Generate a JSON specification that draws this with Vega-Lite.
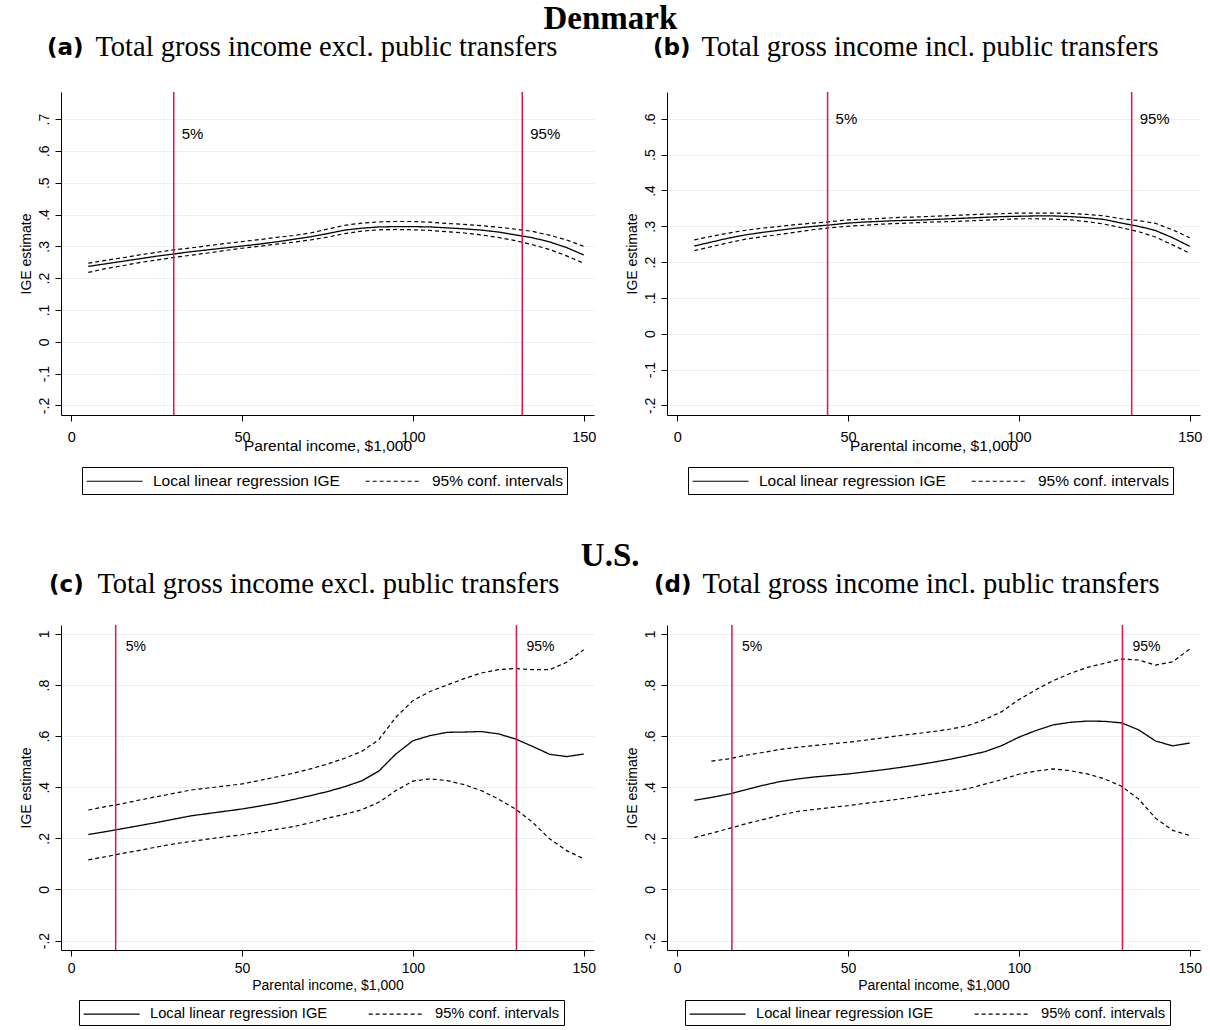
{
  "$schema": "https://vega.github.io/schema/vega-lite/v6.json",
  "background": "white",
  "padding": {"left": 18, "top": 2, "right": 5, "bottom": 0},
  "config": {
    "view": {"stroke": null},
    "axis": {"labelFont": "Liberation Sans", "titleFont": "Liberation Sans", "labelFontSize": 14, "titleFontSize": 14, "titleFontWeight": "normal", "labelColor": "black", "titleColor": "black", "domainColor": "black", "tickColor": "black", "tickSize": 6, "labelOverlap": false},
    "axisY": {"grid": true, "gridColor": "#e9eff2", "labelAngle": -90, "labelPadding": 4, "titlePadding": 4, "tickCount": 12},
    "axisX": {"grid": false, "labelPadding": 4},
    "legend": {"orient": "none", "direction": "horizontal", "title": null, "symbolType": "M -1 0 H 5", "symbolSize": 348, "symbolStrokeWidth": 1.2, "symbolStrokeColor": "black", "symbolFillColor": "transparent", "labelFont": "Liberation Sans", "labelColor": "black", "labelOffset": 47, "padding": 4, "strokeColor": "black", "fillColor": "white", "cornerRadius": 0, "labelLimit": 300},
    "title": {"color": "black"}
  },
  "datasets": {
    "curves": [
      {"p":"a","income":5,"est":0.237,"lo":0.218,"hi":0.247},
      {"p":"a","income":10,"est":0.245,"lo":0.230,"hi":0.256},
      {"p":"a","income":15,"est":0.253,"lo":0.239,"hi":0.264},
      {"p":"a","income":20,"est":0.261,"lo":0.249,"hi":0.273},
      {"p":"a","income":25,"est":0.269,"lo":0.257,"hi":0.281},
      {"p":"a","income":30,"est":0.276,"lo":0.265,"hi":0.289},
      {"p":"a","income":35,"est":0.283,"lo":0.272,"hi":0.295},
      {"p":"a","income":40,"est":0.289,"lo":0.279,"hi":0.302},
      {"p":"a","income":45,"est":0.295,"lo":0.287,"hi":0.309},
      {"p":"a","income":50,"est":0.301,"lo":0.294,"hi":0.315},
      {"p":"a","income":55,"est":0.307,"lo":0.300,"hi":0.321},
      {"p":"a","income":60,"est":0.314,"lo":0.307,"hi":0.328},
      {"p":"a","income":65,"est":0.322,"lo":0.313,"hi":0.334},
      {"p":"a","income":70,"est":0.330,"lo":0.320,"hi":0.342},
      {"p":"a","income":75,"est":0.340,"lo":0.329,"hi":0.354},
      {"p":"a","income":80,"est":0.351,"lo":0.340,"hi":0.366},
      {"p":"a","income":85,"est":0.357,"lo":0.348,"hi":0.373},
      {"p":"a","income":90,"est":0.361,"lo":0.352,"hi":0.377},
      {"p":"a","income":95,"est":0.362,"lo":0.353,"hi":0.378},
      {"p":"a","income":100,"est":0.362,"lo":0.352,"hi":0.378},
      {"p":"a","income":105,"est":0.361,"lo":0.350,"hi":0.376},
      {"p":"a","income":110,"est":0.358,"lo":0.346,"hi":0.372},
      {"p":"a","income":115,"est":0.355,"lo":0.342,"hi":0.369},
      {"p":"a","income":120,"est":0.351,"lo":0.336,"hi":0.365},
      {"p":"a","income":125,"est":0.345,"lo":0.328,"hi":0.360},
      {"p":"a","income":130,"est":0.336,"lo":0.318,"hi":0.354},
      {"p":"a","income":135,"est":0.327,"lo":0.305,"hi":0.347},
      {"p":"a","income":140,"est":0.314,"lo":0.290,"hi":0.335},
      {"p":"a","income":145,"est":0.296,"lo":0.270,"hi":0.320},
      {"p":"a","income":150,"est":0.273,"lo":0.247,"hi":0.300},
      {"p":"b","income":5,"est":0.245,"lo":0.232,"hi":0.262},
      {"p":"b","income":10,"est":0.256,"lo":0.243,"hi":0.272},
      {"p":"b","income":15,"est":0.267,"lo":0.254,"hi":0.281},
      {"p":"b","income":20,"est":0.276,"lo":0.264,"hi":0.289},
      {"p":"b","income":25,"est":0.283,"lo":0.271,"hi":0.295},
      {"p":"b","income":30,"est":0.289,"lo":0.277,"hi":0.300},
      {"p":"b","income":35,"est":0.295,"lo":0.284,"hi":0.305},
      {"p":"b","income":40,"est":0.300,"lo":0.291,"hi":0.309},
      {"p":"b","income":45,"est":0.304,"lo":0.296,"hi":0.313},
      {"p":"b","income":50,"est":0.309,"lo":0.300,"hi":0.318},
      {"p":"b","income":55,"est":0.312,"lo":0.303,"hi":0.320},
      {"p":"b","income":60,"est":0.314,"lo":0.306,"hi":0.322},
      {"p":"b","income":65,"est":0.316,"lo":0.308,"hi":0.325},
      {"p":"b","income":70,"est":0.317,"lo":0.310,"hi":0.326},
      {"p":"b","income":75,"est":0.319,"lo":0.312,"hi":0.328},
      {"p":"b","income":80,"est":0.321,"lo":0.313,"hi":0.330},
      {"p":"b","income":85,"est":0.323,"lo":0.315,"hi":0.332},
      {"p":"b","income":90,"est":0.325,"lo":0.317,"hi":0.334},
      {"p":"b","income":95,"est":0.327,"lo":0.319,"hi":0.335},
      {"p":"b","income":100,"est":0.328,"lo":0.321,"hi":0.337},
      {"p":"b","income":105,"est":0.329,"lo":0.321,"hi":0.337},
      {"p":"b","income":110,"est":0.329,"lo":0.320,"hi":0.337},
      {"p":"b","income":115,"est":0.327,"lo":0.318,"hi":0.336},
      {"p":"b","income":120,"est":0.324,"lo":0.313,"hi":0.333},
      {"p":"b","income":125,"est":0.319,"lo":0.306,"hi":0.329},
      {"p":"b","income":130,"est":0.309,"lo":0.296,"hi":0.321},
      {"p":"b","income":135,"est":0.300,"lo":0.285,"hi":0.316},
      {"p":"b","income":140,"est":0.288,"lo":0.270,"hi":0.308},
      {"p":"b","income":145,"est":0.268,"lo":0.248,"hi":0.290},
      {"p":"b","income":150,"est":0.244,"lo":0.225,"hi":0.268},
      {"p":"c","income":5,"est":0.215,"lo":0.116,"hi":0.311},
      {"p":"c","income":10,"est":0.226,"lo":0.128,"hi":0.324},
      {"p":"c","income":15,"est":0.238,"lo":0.141,"hi":0.336},
      {"p":"c","income":20,"est":0.250,"lo":0.153,"hi":0.350},
      {"p":"c","income":25,"est":0.262,"lo":0.166,"hi":0.363},
      {"p":"c","income":30,"est":0.275,"lo":0.178,"hi":0.376},
      {"p":"c","income":35,"est":0.288,"lo":0.188,"hi":0.389},
      {"p":"c","income":40,"est":0.297,"lo":0.197,"hi":0.397},
      {"p":"c","income":45,"est":0.306,"lo":0.206,"hi":0.405},
      {"p":"c","income":50,"est":0.315,"lo":0.214,"hi":0.413},
      {"p":"c","income":55,"est":0.326,"lo":0.224,"hi":0.426},
      {"p":"c","income":60,"est":0.338,"lo":0.235,"hi":0.440},
      {"p":"c","income":65,"est":0.352,"lo":0.246,"hi":0.455},
      {"p":"c","income":70,"est":0.367,"lo":0.261,"hi":0.472},
      {"p":"c","income":75,"est":0.383,"lo":0.279,"hi":0.491},
      {"p":"c","income":80,"est":0.402,"lo":0.294,"hi":0.513},
      {"p":"c","income":85,"est":0.425,"lo":0.312,"hi":0.540},
      {"p":"c","income":90,"est":0.463,"lo":0.341,"hi":0.586},
      {"p":"c","income":95,"est":0.530,"lo":0.387,"hi":0.674},
      {"p":"c","income":100,"est":0.582,"lo":0.424,"hi":0.739},
      {"p":"c","income":105,"est":0.602,"lo":0.433,"hi":0.775},
      {"p":"c","income":110,"est":0.615,"lo":0.426,"hi":0.800},
      {"p":"c","income":115,"est":0.616,"lo":0.410,"hi":0.825},
      {"p":"c","income":120,"est":0.618,"lo":0.387,"hi":0.847},
      {"p":"c","income":125,"est":0.609,"lo":0.354,"hi":0.860},
      {"p":"c","income":130,"est":0.589,"lo":0.315,"hi":0.865},
      {"p":"c","income":135,"est":0.560,"lo":0.263,"hi":0.860},
      {"p":"c","income":140,"est":0.529,"lo":0.198,"hi":0.860},
      {"p":"c","income":145,"est":0.520,"lo":0.152,"hi":0.889},
      {"p":"c","income":150,"est":0.530,"lo":0.120,"hi":0.938},
      {"p":"d","income":5,"est":0.349,"lo":0.203,"hi":null},
      {"p":"d","income":10,"est":0.360,"lo":0.220,"hi":0.502},
      {"p":"d","income":15,"est":0.373,"lo":0.238,"hi":0.511},
      {"p":"d","income":20,"est":0.390,"lo":0.257,"hi":0.525},
      {"p":"d","income":25,"est":0.407,"lo":0.273,"hi":0.536},
      {"p":"d","income":30,"est":0.422,"lo":0.290,"hi":0.548},
      {"p":"d","income":35,"est":0.432,"lo":0.305,"hi":0.556},
      {"p":"d","income":40,"est":0.440,"lo":0.313,"hi":0.563},
      {"p":"d","income":45,"est":0.446,"lo":0.321,"hi":0.570},
      {"p":"d","income":50,"est":0.452,"lo":0.328,"hi":0.576},
      {"p":"d","income":55,"est":0.460,"lo":0.337,"hi":0.584},
      {"p":"d","income":60,"est":0.468,"lo":0.345,"hi":0.593},
      {"p":"d","income":65,"est":0.477,"lo":0.354,"hi":0.602},
      {"p":"d","income":70,"est":0.487,"lo":0.364,"hi":0.610},
      {"p":"d","income":75,"est":0.498,"lo":0.374,"hi":0.618},
      {"p":"d","income":80,"est":0.510,"lo":0.384,"hi":0.628},
      {"p":"d","income":85,"est":0.524,"lo":0.394,"hi":0.641},
      {"p":"d","income":90,"est":0.539,"lo":0.412,"hi":0.665},
      {"p":"d","income":95,"est":0.563,"lo":0.430,"hi":0.696},
      {"p":"d","income":100,"est":0.596,"lo":0.451,"hi":0.743},
      {"p":"d","income":105,"est":0.622,"lo":0.463,"hi":0.782},
      {"p":"d","income":110,"est":0.644,"lo":0.472,"hi":0.817},
      {"p":"d","income":115,"est":0.654,"lo":0.465,"hi":0.845},
      {"p":"d","income":120,"est":0.659,"lo":0.452,"hi":0.869},
      {"p":"d","income":125,"est":0.658,"lo":0.433,"hi":0.885},
      {"p":"d","income":130,"est":0.652,"lo":0.404,"hi":0.902},
      {"p":"d","income":135,"est":0.625,"lo":0.354,"hi":0.898},
      {"p":"d","income":140,"est":0.581,"lo":0.279,"hi":0.878},
      {"p":"d","income":145,"est":0.562,"lo":0.231,"hi":0.891},
      {"p":"d","income":150,"est":0.573,"lo":0.211,"hi":0.941}
    ],
    "cuts": [
      {"p":"a","pct":"5%","income":30},
      {"p":"a","pct":"95%","income":132},
      {"p":"b","pct":"5%","income":44},
      {"p":"b","pct":"95%","income":133},
      {"p":"c","pct":"5%","income":13},
      {"p":"c","pct":"95%","income":130.3},
      {"p":"d","pct":"5%","income":16},
      {"p":"d","pct":"95%","income":130.3}
    ]
  },
  "resolve": {"scale": {"strokeDash": "independent", "x": "independent", "y": "independent"}, "legend": {"strokeDash": "independent"}},
  "spacing": 44,
  "vconcat": [
    {
      "title": {"text": "Denmark", "font": "Liberation Serif", "fontSize": 33, "fontWeight": "bold", "anchor": "middle", "offset": -3, "color": "black"},
      "spacing": 29,
      "resolve": {"scale": {"strokeDash": "independent", "x": "independent", "y": "independent"}, "legend": {"strokeDash": "independent"}},
      "hconcat": [
        {
          "width": 533, "height": 323,
          "title": {"text": "(a)", "subtitle": "\u200b\u00a0\u00a0\u00a0\u00a0\u00a0\u00a0\u2009Total gross income excl. public transfers", "anchor": "start", "frame": "group", "dx": -14, "offset": 26, "font": "DejaVu Sans", "fontSize": 23, "fontWeight": "bold", "color": "black", "subtitleFont": "Liberation Serif", "subtitleFontSize": 28.5, "subtitleColor": "black", "subtitlePadding": -27},
          "layer": [
            {"data": {"name": "curves"}, "transform": [{"filter": "datum.p == 'a'"}],
             "mark": {"type": "line", "color": "black", "strokeWidth": 1.3},
             "encoding": {
               "x": {"field": "income", "type": "quantitative", "title": "Parental income, $1,000", "scale": {"domain": [-3, 153], "nice": false, "zero": false}, "axis": {"values": [0, 50, 100, 150], "labelPadding": 9, "labelFontSize": 14.5, "titleFontSize": 15.5, "titlePadding": -5}},
               "y": {"field": "est", "type": "quantitative", "title": "IGE estimate", "scale": {"domain": [-0.23, 0.785], "nice": false, "zero": false}, "axis": {"values": [-0.2,-0.1,0,0.1,0.2,0.3,0.4,0.5,0.6,0.7], "tickCount": 12, "labelOverlap": false, "labelBound": false, "labelExpr": "datum.value == 0 ? '0' : (datum.value < 0 ? '-' : '') + replace(format(abs(datum.value), '.1~f'), '0.', '.')"}},
               "strokeDash": {"datum": "Local linear regression IGE", "type": "nominal", "scale": {"domain": ["Local linear regression IGE", "95% conf. intervals"], "range": [[1, 0], [4, 3]]},
                 "legend": {"legendX": 21, "legendY": 375, "labelFontSize": 15.5, "columnPadding": 23}}
             }},
            {"data": {"name": "curves"}, "transform": [{"filter": "datum.p == 'a'"}, {"fold": ["lo", "hi"], "as": ["bound", "ige"]}],
             "mark": {"type": "line", "color": "black", "strokeWidth": 1.2},
             "encoding": {
               "x": {"field": "income", "type": "quantitative", "title": "Parental income, $1,000"},
               "y": {"field": "ige", "type": "quantitative", "title": "IGE estimate"},
               "detail": {"field": "bound"},
               "strokeDash": {"datum": "95% conf. intervals", "type": "nominal"}
             }},
            {"data": {"name": "cuts"}, "transform": [{"filter": "datum.p == 'a'"}],
             "mark": {"type": "rule", "color": "#d7194b", "strokeWidth": 1.5},
             "encoding": {"x": {"field": "income", "type": "quantitative"}}},
            {"data": {"name": "cuts"}, "transform": [{"filter": "datum.p == 'a'"}],
             "mark": {"type": "text", "align": "left", "dx": 8, "font": "Liberation Sans", "fontSize": 15, "color": "black"},
             "encoding": {"x": {"field": "income", "type": "quantitative"}, "y": {"datum": 0.652}, "text": {"field": "pct"}}}
          ]
        },
        {
          "width": 533, "height": 323,
          "title": {"text": "(b)", "subtitle": "\u200b\u00a0\u00a0\u00a0\u00a0\u00a0\u00a0\u2009Total gross income incl. public transfers", "anchor": "start", "frame": "group", "dx": -14, "offset": 26, "font": "DejaVu Sans", "fontSize": 23, "fontWeight": "bold", "color": "black", "subtitleFont": "Liberation Serif", "subtitleFontSize": 28.5, "subtitleColor": "black", "subtitlePadding": -27},
          "layer": [
            {"data": {"name": "curves"}, "transform": [{"filter": "datum.p == 'b'"}],
             "mark": {"type": "line", "color": "black", "strokeWidth": 1.3},
             "encoding": {
               "x": {"field": "income", "type": "quantitative", "title": "Parental income, $1,000", "scale": {"domain": [-3, 153], "nice": false, "zero": false}, "axis": {"values": [0, 50, 100, 150], "labelPadding": 9, "labelFontSize": 14.5, "titleFontSize": 15.5, "titlePadding": -5}},
               "y": {"field": "est", "type": "quantitative", "title": "IGE estimate", "scale": {"domain": [-0.227, 0.675], "nice": false, "zero": false}, "axis": {"values": [-0.2,-0.1,0,0.1,0.2,0.3,0.4,0.5,0.6], "tickCount": 12, "labelOverlap": false, "labelBound": false, "labelExpr": "datum.value == 0 ? '0' : (datum.value < 0 ? '-' : '') + replace(format(abs(datum.value), '.1~f'), '0.', '.')"}},
               "strokeDash": {"datum": "Local linear regression IGE", "type": "nominal", "scale": {"domain": ["Local linear regression IGE", "95% conf. intervals"], "range": [[1, 0], [4, 3]]},
                 "legend": {"legendX": 21, "legendY": 375, "labelFontSize": 15.5, "columnPadding": 23}}
             }},
            {"data": {"name": "curves"}, "transform": [{"filter": "datum.p == 'b'"}, {"fold": ["lo", "hi"], "as": ["bound", "ige"]}],
             "mark": {"type": "line", "color": "black", "strokeWidth": 1.2},
             "encoding": {
               "x": {"field": "income", "type": "quantitative", "title": "Parental income, $1,000"},
               "y": {"field": "ige", "type": "quantitative", "title": "IGE estimate"},
               "detail": {"field": "bound"},
               "strokeDash": {"datum": "95% conf. intervals", "type": "nominal"}
             }},
            {"data": {"name": "cuts"}, "transform": [{"filter": "datum.p == 'b'"}],
             "mark": {"type": "rule", "color": "#d7194b", "strokeWidth": 1.5},
             "encoding": {"x": {"field": "income", "type": "quantitative"}}},
            {"data": {"name": "cuts"}, "transform": [{"filter": "datum.p == 'b'"}],
             "mark": {"type": "text", "align": "left", "dx": 8, "font": "Liberation Sans", "fontSize": 15, "color": "black"},
             "encoding": {"x": {"field": "income", "type": "quantitative"}, "y": {"datum": 0.60}, "text": {"field": "pct"}}}
          ]
        }
      ]
    },
    {
      "title": {"text": "U.S.", "font": "Liberation Serif", "fontSize": 33, "fontWeight": "bold", "anchor": "middle", "offset": -3, "color": "black"},
      "spacing": 29,
      "resolve": {"scale": {"strokeDash": "independent", "x": "independent", "y": "independent"}, "legend": {"strokeDash": "independent"}},
      "hconcat": [
        {
          "width": 533, "height": 325,
          "title": {"text": "(c)", "subtitle": "\u200b\u00a0\u00a0\u00a0\u00a0\u00a0\u00a0\u2009Total gross income excl. public transfers", "anchor": "start", "frame": "group", "dx": -12, "offset": 22, "font": "DejaVu Sans", "fontSize": 23, "fontWeight": "bold", "color": "black", "subtitleFont": "Liberation Serif", "subtitleFontSize": 28.5, "subtitleColor": "black", "subtitlePadding": -27},
          "layer": [
            {"data": {"name": "curves"}, "transform": [{"filter": "datum.p == 'c'"}],
             "mark": {"type": "line", "color": "black", "strokeWidth": 1.3},
             "encoding": {
               "x": {"field": "income", "type": "quantitative", "title": "Parental income, $1,000", "scale": {"domain": [-3, 153], "nice": false, "zero": false}, "axis": {"values": [0, 50, 100, 150], "labelPadding": 5, "titlePadding": 3}},
               "y": {"field": "est", "type": "quantitative", "title": "IGE estimate", "scale": {"domain": [-0.237, 1.035], "nice": false, "zero": false}, "axis": {"values": [-0.2,0,0.2,0.4,0.6,0.8,1], "tickCount": 12, "labelOverlap": false, "labelBound": false, "labelExpr": "datum.value == 0 ? '0' : (datum.value < 0 ? '-' : '') + replace(format(abs(datum.value), '.1~f'), '0.', '.')"}},
               "strokeDash": {"datum": "Local linear regression IGE", "type": "nominal", "scale": {"domain": ["Local linear regression IGE", "95% conf. intervals"], "range": [[1, 0], [4, 3]]},
                 "legend": {"legendX": 18, "legendY": 375, "labelFontSize": 14.7, "columnPadding": 38}}
             }},
            {"data": {"name": "curves"}, "transform": [{"filter": "datum.p == 'c'"}, {"fold": ["lo", "hi"], "as": ["bound", "ige"]}],
             "mark": {"type": "line", "color": "black", "strokeWidth": 1.2},
             "encoding": {
               "x": {"field": "income", "type": "quantitative", "title": "Parental income, $1,000"},
               "y": {"field": "ige", "type": "quantitative", "title": "IGE estimate"},
               "detail": {"field": "bound"},
               "strokeDash": {"datum": "95% conf. intervals", "type": "nominal"}
             }},
            {"data": {"name": "cuts"}, "transform": [{"filter": "datum.p == 'c'"}],
             "mark": {"type": "rule", "color": "#d7194b", "strokeWidth": 1.5},
             "encoding": {"x": {"field": "income", "type": "quantitative"}}},
            {"data": {"name": "cuts"}, "transform": [{"filter": "datum.p == 'c'"}],
             "mark": {"type": "text", "align": "left", "dx": 10, "font": "Liberation Sans", "fontSize": 14, "color": "black"},
             "encoding": {"x": {"field": "income", "type": "quantitative"}, "y": {"datum": 0.948}, "text": {"field": "pct"}}}
          ]
        },
        {
          "width": 533, "height": 325,
          "title": {"text": "(d)", "subtitle": "\u200b\u00a0\u00a0\u00a0\u00a0\u00a0\u00a0\u2009Total gross income incl. public transfers", "anchor": "start", "frame": "group", "dx": -13, "offset": 22, "font": "DejaVu Sans", "fontSize": 23, "fontWeight": "bold", "color": "black", "subtitleFont": "Liberation Serif", "subtitleFontSize": 28.5, "subtitleColor": "black", "subtitlePadding": -27},
          "layer": [
            {"data": {"name": "curves"}, "transform": [{"filter": "datum.p == 'd'"}],
             "mark": {"type": "line", "color": "black", "strokeWidth": 1.3},
             "encoding": {
               "x": {"field": "income", "type": "quantitative", "title": "Parental income, $1,000", "scale": {"domain": [-3, 153], "nice": false, "zero": false}, "axis": {"values": [0, 50, 100, 150], "labelPadding": 5, "titlePadding": 3}},
               "y": {"field": "est", "type": "quantitative", "title": "IGE estimate", "scale": {"domain": [-0.237, 1.035], "nice": false, "zero": false}, "axis": {"values": [-0.2,0,0.2,0.4,0.6,0.8,1], "tickCount": 12, "labelOverlap": false, "labelBound": false, "labelExpr": "datum.value == 0 ? '0' : (datum.value < 0 ? '-' : '') + replace(format(abs(datum.value), '.1~f'), '0.', '.')"}},
               "strokeDash": {"datum": "Local linear regression IGE", "type": "nominal", "scale": {"domain": ["Local linear regression IGE", "95% conf. intervals"], "range": [[1, 0], [4, 3]]},
                 "legend": {"legendX": 18, "legendY": 375, "labelFontSize": 14.7, "columnPadding": 38}}
             }},
            {"data": {"name": "curves"}, "transform": [{"filter": "datum.p == 'd'"}, {"fold": ["lo", "hi"], "as": ["bound", "ige"]}],
             "mark": {"type": "line", "color": "black", "strokeWidth": 1.2},
             "encoding": {
               "x": {"field": "income", "type": "quantitative", "title": "Parental income, $1,000"},
               "y": {"field": "ige", "type": "quantitative", "title": "IGE estimate"},
               "detail": {"field": "bound"},
               "strokeDash": {"datum": "95% conf. intervals", "type": "nominal"}
             }},
            {"data": {"name": "cuts"}, "transform": [{"filter": "datum.p == 'd'"}],
             "mark": {"type": "rule", "color": "#d7194b", "strokeWidth": 1.5},
             "encoding": {"x": {"field": "income", "type": "quantitative"}}},
            {"data": {"name": "cuts"}, "transform": [{"filter": "datum.p == 'd'"}],
             "mark": {"type": "text", "align": "left", "dx": 10, "font": "Liberation Sans", "fontSize": 14, "color": "black"},
             "encoding": {"x": {"field": "income", "type": "quantitative"}, "y": {"datum": 0.948}, "text": {"field": "pct"}}}
          ]
        }
      ]
    }
  ]
}
